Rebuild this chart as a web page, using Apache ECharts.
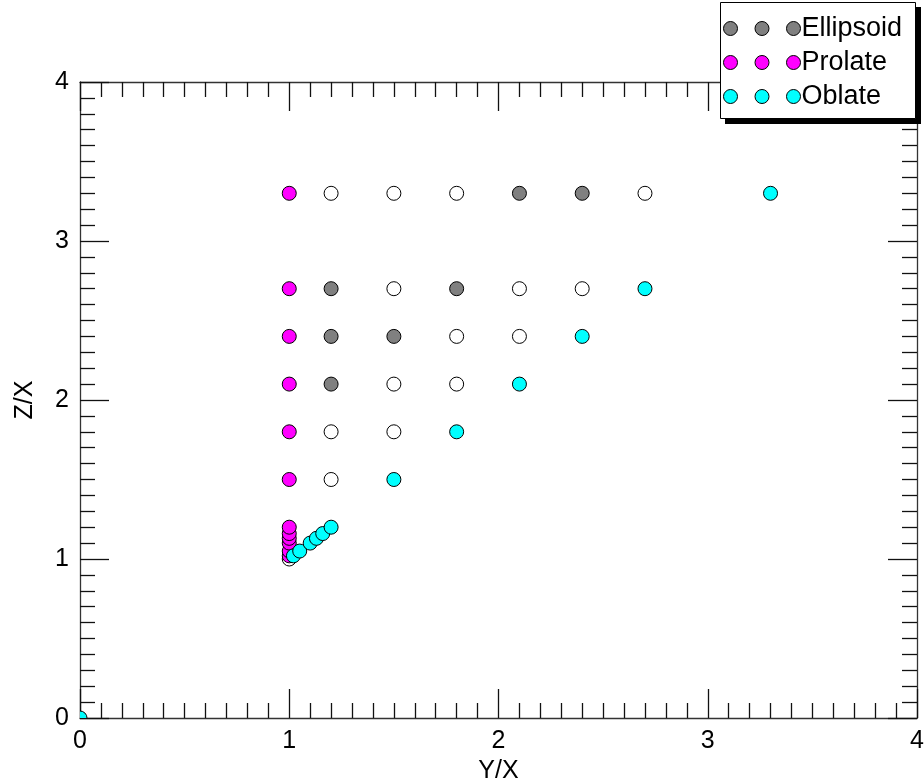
<!DOCTYPE html>
<html>
<head>
<meta charset="utf-8">
<script src="https://cdn.jsdelivr.net/npm/echarts@6/dist/echarts.min.js"></script>
<style>
  html, body { margin: 0; padding: 0; background: #fff; }
  #chart { width: 924px; height: 782px; }
</style>
</head>
<body>
<div id="chart"></div>
<script>
// Axis ranges and tick spacing
const axisMin = 0;
const axisMax = 4;
const axisStep = 1;

// Shape classes: Y/X and Z/X ratios
const ellipsoidY = [2.1, 2.4, 1.2, 1.8, 1.2, 1.5, 1.2];
const ellipsoidZ = [3.3, 3.3, 2.7, 2.7, 2.4, 2.4, 2.1];

const otherY = [1.2, 1.5, 1.8, 2.7, 1.5, 2.1, 2.4, 1.8, 2.1, 1.5, 1.8, 1.2, 1.5, 1.2, 1.0];
const otherZ = [3.3, 3.3, 3.3, 3.3, 2.7, 2.7, 2.7, 2.4, 2.4, 2.1, 2.1, 1.8, 1.8, 1.5, 1.0];

const prolateY = [1, 1, 1, 1, 1, 1, 1, 1, 1, 1, 1, 1];
const prolateZ = [1.02, 1.05, 1.1, 1.13, 1.16, 1.2, 1.5, 1.8, 2.1, 2.4, 2.7, 3.3];

const oblateY = [0, 1.02, 1.05, 1.1, 1.13, 1.16, 1.2, 1.5, 1.8, 2.1, 2.4, 2.7, 3.3];
const oblateZ = [0, 1.02, 1.05, 1.1, 1.13, 1.16, 1.2, 1.5, 1.8, 2.1, 2.4, 2.7, 3.3];

const pairs = (xs, ys) => xs.map((x, i) => [x, ys[i]]);

const FONT = '"Liberation Sans", Arial, Helvetica, sans-serif';
const LINE = '#333';
const MARK = 14;

// three circles in a row, used as the legend symbol
const triIcon = 'path://M0,7a7,7 0 1,0 14,0a7,7 0 1,0 -14,0Z' +
  'M31.5,7a7,7 0 1,0 14,0a7,7 0 1,0 -14,0Z' +
  'M63,7a7,7 0 1,0 14,0a7,7 0 1,0 -14,0Z';

function axisBase(pos, showLabel) {
  return {
    type: 'value',
    position: pos,
    min: axisMin,
    max: axisMax,
    interval: axisStep,
    splitLine: { show: false },
    axisLine: { show: true, onZero: false, lineStyle: { color: LINE, width: 1.3 } },
    axisTick: { show: true, inside: true, length: 29, lineStyle: { color: '#111', width: 1.3 } },
    minorTick: { show: true, splitNumber: 10, length: 15, lineStyle: { color: '#111', width: 1.3 } },
    axisLabel: {
      show: showLabel, color: '#000', fontFamily: FONT, fontSize: 25, margin: 11,
      showMinLabel: true, showMaxLabel: true
    }
  };
}

const scatterStyle = (color) => ({
  color: color,
  borderColor: '#000',
  borderWidth: 1,
  opacity: 1
});

const chart = echarts.init(document.getElementById('chart'), null, { renderer: 'canvas' });

chart.setOption({
  animation: false,
  backgroundColor: '#fff',
  grid: { left: 80, right: 7, top: 82, bottom: 64, containLabel: false, outerBoundsMode: 'none' },
  xAxis: [
    Object.assign(axisBase('bottom', true), {
      name: 'Y/X', nameLocation: 'middle', nameGap: 34,
      nameTextStyle: { color: '#000', fontFamily: FONT, fontSize: 25 }
    }),
    axisBase('top', false)
  ],
  yAxis: [
    Object.assign(axisBase('left', true), {
      name: 'Z/X', nameLocation: 'middle', nameGap: 42, nameRotate: 90,
      nameTextStyle: { color: '#000', fontFamily: FONT, fontSize: 25 }
    }),
    axisBase('right', false)
  ],
  // legend frame with a hard drop shadow
  graphic: [
    {
      type: 'rect', z: 3, left: 725, top: 7,
      shape: { width: 196, height: 117 },
      style: { fill: '#000' }
    },
    {
      type: 'rect', z: 3, left: 720, top: 2,
      shape: { width: 195, height: 116 },
      style: { fill: '#fff', stroke: '#000', lineWidth: 1 }
    }
  ],
  legend: {
    z: 4,
    data: ['Ellipsoid', 'Prolate', 'Oblate'],
    orient: 'vertical',
    left: 720,
    top: 4,
    padding: [11, 6, 8, 3],
    itemGap: 7,
    itemWidth: 77,
    itemHeight: 14,
    icon: triIcon,
    itemStyle: { borderColor: '#000', borderWidth: 1 },
    textStyle: { color: '#000', fontFamily: FONT, fontSize: 27, padding: [0, 0, 0, -4] }
  },
  series: [
    {
      name: 'Other', type: 'scatter', symbol: 'circle', symbolSize: MARK, z: 2,
      itemStyle: scatterStyle('#ffffff'),
      data: pairs(otherY, otherZ)
    },
    {
      name: 'Ellipsoid', type: 'scatter', symbol: 'circle', symbolSize: MARK, z: 2,
      itemStyle: scatterStyle('#808080'),
      data: pairs(ellipsoidY, ellipsoidZ)
    },
    {
      name: 'Prolate', type: 'scatter', symbol: 'circle', symbolSize: MARK, z: 2,
      itemStyle: scatterStyle('#ff00ff'),
      data: pairs(prolateY, prolateZ)
    },
    {
      // drawn as a custom series so markers on the frame are cut at the plot edge
      name: 'Oblate', type: 'custom', clip: true, z: 3,
      itemStyle: scatterStyle('#00ffff'),
      encode: { x: 0, y: 1 },
      data: pairs(oblateY, oblateZ),
      renderItem: function (params, api) {
        const p = api.coord([api.value(0), api.value(1)]);
        return {
          type: 'circle',
          shape: { cx: p[0], cy: p[1], r: MARK / 2 },
          style: { fill: '#00ffff', stroke: '#000', lineWidth: 1 }
        };
      }
    }
  ]
});
</script>
</body>
</html>
